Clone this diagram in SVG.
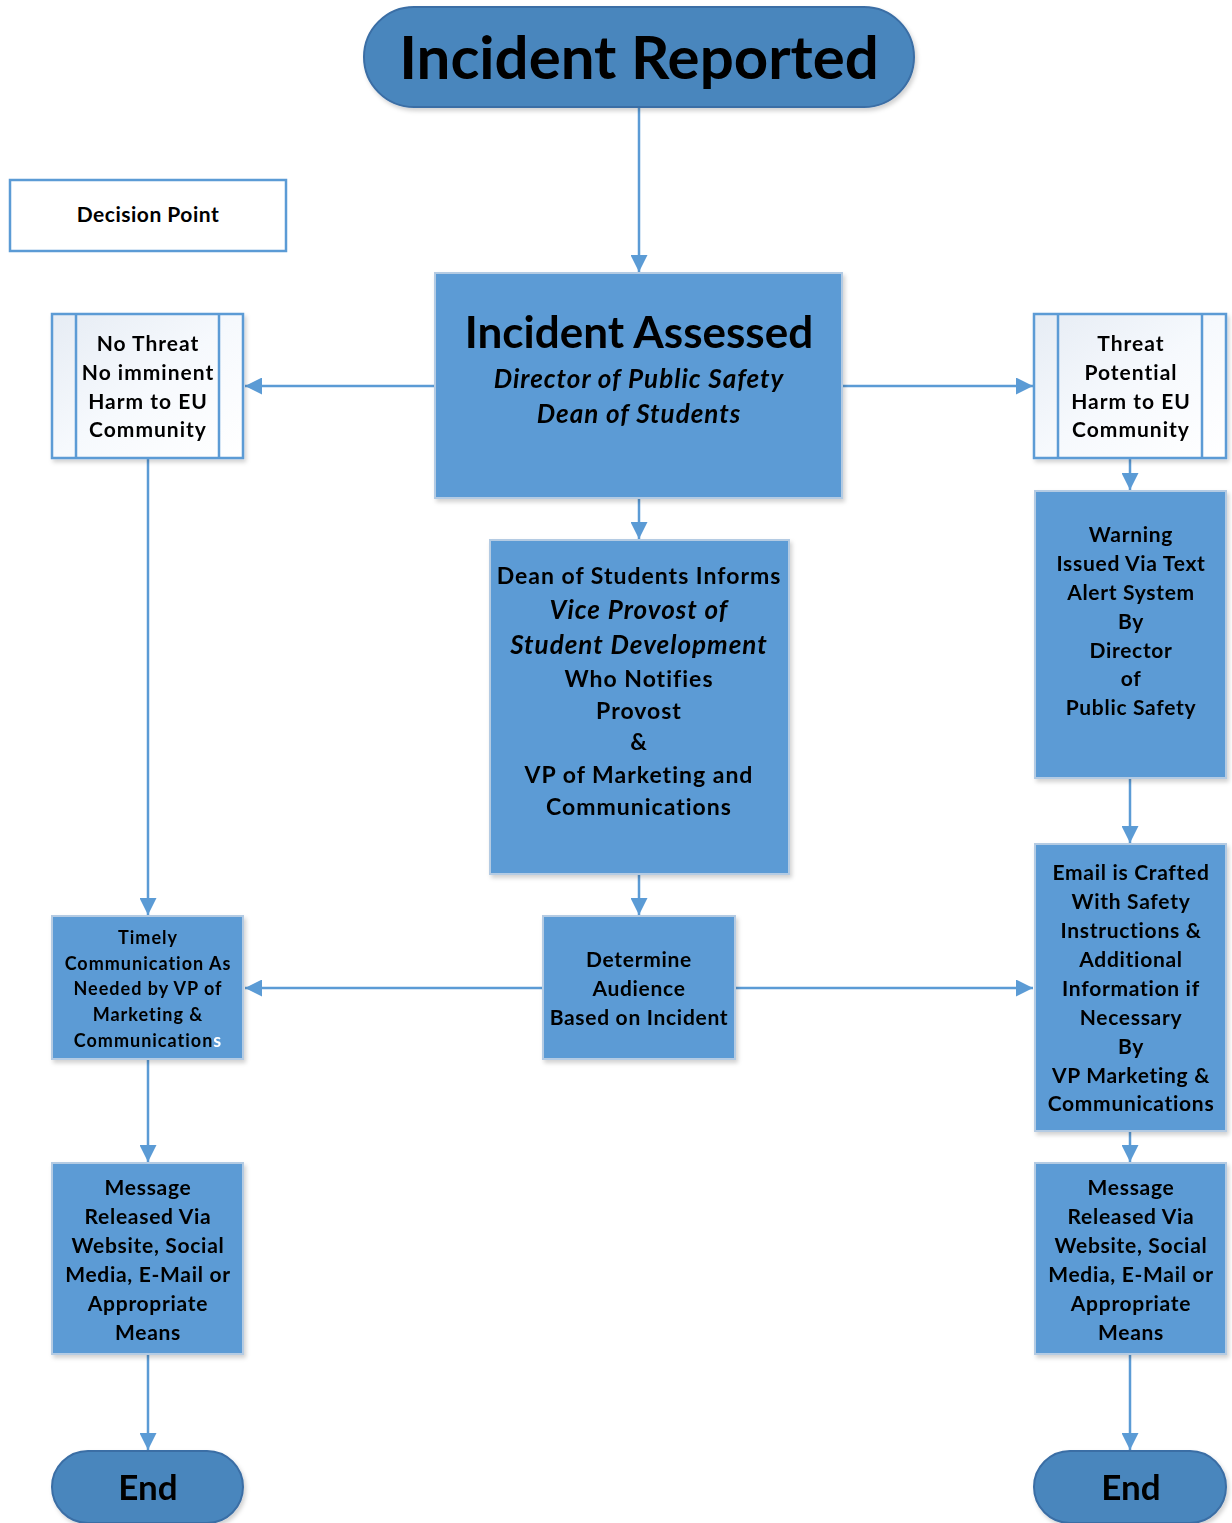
<svg xmlns="http://www.w3.org/2000/svg" width="1232" height="1523" viewBox="0 0 1232 1523">
<defs>
<style>
.t{font-family:Lato,"Open Sans","Liberation Sans",sans-serif;font-weight:bold;fill:#000;text-anchor:middle}
.i{font-style:italic}
.s7{letter-spacing:0.7px}
.s1{letter-spacing:1px}
.box{fill:#5b9bd5;stroke:#b4cbe3;stroke-width:2}
.term{fill:#4a86bd;stroke:#3a6ea5;stroke-width:2}
.dec{fill:url(#g);stroke:#5b9bd5;stroke-width:2.5}
.conn{stroke:#5b9bd5;stroke-width:2.5;fill:none;marker-end:url(#ah)}
</style>
<linearGradient id="g" x1="0" y1="0" x2="1" y2="1">
<stop offset="0" stop-color="#e6ecf4"/>
<stop offset="0.5" stop-color="#f6f9fd"/>
<stop offset="1" stop-color="#ffffff"/>
</linearGradient>
<marker id="ah" viewBox="0 0 10 10" refX="10" refY="5" markerWidth="17" markerHeight="17" markerUnits="userSpaceOnUse" orient="auto">
<path d="M0,0 L10,5 L0,10 z" fill="#5b9bd5"/>
</marker>
<filter id="sh" x="-5%" y="-5%" width="115%" height="115%">
<feDropShadow dx="2" dy="3" stdDeviation="2" flood-color="#000" flood-opacity="0.18"/>
</filter>
</defs>
<g id="connectors">
<line class="conn" x1="639" y1="107" x2="639" y2="272"/>
<line class="conn" x1="435" y1="386" x2="245" y2="386"/>
<line class="conn" x1="842" y1="386" x2="1033" y2="386"/>
<line class="conn" x1="639" y1="498" x2="639" y2="539"/>
<line class="conn" x1="639" y1="874" x2="639" y2="915"/>
<line class="conn" x1="543" y1="988" x2="245" y2="988"/>
<line class="conn" x1="735" y1="988" x2="1033" y2="988"/>
<line class="conn" x1="148" y1="458" x2="148" y2="915"/>
<line class="conn" x1="148" y1="1059" x2="148" y2="1162"/>
<line class="conn" x1="148" y1="1354" x2="148" y2="1450"/>
<line class="conn" x1="1130" y1="458" x2="1130" y2="490"/>
<line class="conn" x1="1130" y1="778" x2="1130" y2="843"/>
<line class="conn" x1="1130" y1="1131" x2="1130" y2="1162"/>
<line class="conn" x1="1130" y1="1354" x2="1130" y2="1450"/>
</g>
<g id="incident-reported" filter="url(#sh)">
<rect class="term" x="364" y="7" width="550" height="100" rx="50"/>
<text class="t" x="639" y="79" font-size="60">Incident Reported</text>
</g>
<g id="decision-point-legend">
<rect x="10" y="180" width="276" height="71" fill="#fff" stroke="#5b9bd5" stroke-width="2.5"/>
<text class="t" x="148" y="222" font-size="21" style="letter-spacing:0.5px">Decision Point</text>
</g>
<g id="incident-assessed" filter="url(#sh)">
<rect class="box" x="435" y="273" width="407" height="225"/>
<text class="t" x="639" y="348" font-size="44">Incident Assessed</text>
<text class="t i s1" x="639" y="388" font-size="26">Director of Public Safety</text>
<text class="t i s1" x="639" y="423" font-size="26">Dean of Students</text>
</g>
<g id="no-threat" filter="url(#sh)">
<rect class="dec" x="52" y="314" width="191" height="144"/>
<line x1="76" y1="314" x2="76" y2="458" stroke="#5b9bd5" stroke-width="2.5"/>
<line x1="219" y1="314" x2="219" y2="458" stroke="#5b9bd5" stroke-width="2.5"/>
<text class="t s1" x="148" y="351" font-size="21">No Threat</text>
<text class="t s1" x="148" y="380" font-size="21">No imminent</text>
<text class="t s1" x="148" y="409" font-size="21">Harm to EU</text>
<text class="t s1" x="148" y="437" font-size="21">Community</text>
</g>
<g id="threat" filter="url(#sh)">
<rect class="dec" x="1034" y="314" width="192" height="144"/>
<line x1="1058" y1="314" x2="1058" y2="458" stroke="#5b9bd5" stroke-width="2.5"/>
<line x1="1202" y1="314" x2="1202" y2="458" stroke="#5b9bd5" stroke-width="2.5"/>
<text class="t s1" x="1131" y="351" font-size="21">Threat</text>
<text class="t s1" x="1131" y="380" font-size="21">Potential</text>
<text class="t s1" x="1131" y="409" font-size="21">Harm to EU</text>
<text class="t s1" x="1131" y="437" font-size="21">Community</text>
</g>
<g id="dean-informs" filter="url(#sh)">
<rect class="box" x="490" y="540" width="299" height="334"/>
<text class="t s1" x="639" y="584" font-size="23">Dean of Students Informs</text>
<text class="t i s1" x="639" y="619" font-size="26">Vice Provost of</text>
<text class="t i s1" x="639" y="654" font-size="26">Student Development</text>
<text class="t s1" x="639" y="687" font-size="23">Who Notifies</text>
<text class="t s1" x="639" y="719" font-size="23">Provost</text>
<text class="t s1" x="639" y="750" font-size="23">&amp;</text>
<text class="t s1" x="639" y="783" font-size="23">VP of Marketing and</text>
<text class="t s1" x="639" y="815" font-size="23">Communications</text>
</g>
<g id="determine-audience" filter="url(#sh)">
<rect class="box" x="543" y="916" width="192" height="143"/>
<text class="t s7" x="639" y="967" font-size="21">Determine</text>
<text class="t s7" x="639" y="996" font-size="21">Audience</text>
<text class="t s7" x="639" y="1025" font-size="21">Based on Incident</text>
</g>
<g id="timely-communication" filter="url(#sh)">
<rect class="box" x="52" y="916" width="191" height="143"/>
<text class="t s1" x="148" y="944" font-size="18">Timely</text>
<text class="t s1" x="148" y="970" font-size="18">Communication As</text>
<text class="t s1" x="148" y="995" font-size="18">Needed by VP of</text>
<text class="t s1" x="148" y="1021" font-size="18">Marketing &amp;</text>
<text class="t s1" x="148" y="1047" font-size="18">Communication<tspan fill="#fff">s</tspan></text>
</g>
<g id="warning-issued" filter="url(#sh)">
<rect class="box" x="1035" y="491" width="191" height="287"/>
<text class="t s7" x="1131" y="542" font-size="21">Warning</text>
<text class="t s7" x="1131" y="571" font-size="21">Issued Via Text</text>
<text class="t s7" x="1131" y="600" font-size="21">Alert System</text>
<text class="t s7" x="1131" y="629" font-size="21">By</text>
<text class="t s7" x="1131" y="658" font-size="21">Director</text>
<text class="t s7" x="1131" y="686" font-size="21">of</text>
<text class="t s7" x="1131" y="715" font-size="21">Public Safety</text>
</g>
<g id="email-crafted" filter="url(#sh)">
<rect class="box" x="1035" y="844" width="191" height="287"/>
<text class="t s7" x="1131" y="880" font-size="21">Email is Crafted</text>
<text class="t s7" x="1131" y="909" font-size="21">With Safety</text>
<text class="t s7" x="1131" y="938" font-size="21">Instructions &amp;</text>
<text class="t s7" x="1131" y="967" font-size="21">Additional</text>
<text class="t s7" x="1131" y="996" font-size="21">Information if</text>
<text class="t s7" x="1131" y="1025" font-size="21">Necessary</text>
<text class="t s7" x="1131" y="1054" font-size="21">By</text>
<text class="t s7" x="1131" y="1083" font-size="21">VP Marketing &amp;</text>
<text class="t s7" x="1131" y="1111" font-size="21">Communications</text>
</g>
<g id="message-left" filter="url(#sh)">
<rect class="box" x="52" y="1163" width="191" height="191"/>
<text class="t s7" x="148" y="1195" font-size="21">Message</text>
<text class="t s7" x="148" y="1224" font-size="21">Released Via</text>
<text class="t s7" x="148" y="1253" font-size="21">Website, Social</text>
<text class="t s7" x="148" y="1282" font-size="21">Media, E-Mail or</text>
<text class="t s7" x="148" y="1311" font-size="21">Appropriate</text>
<text class="t s7" x="148" y="1340" font-size="21">Means</text>
</g>
<g id="message-right" filter="url(#sh)">
<rect class="box" x="1035" y="1163" width="191" height="191"/>
<text class="t s7" x="1131" y="1195" font-size="21">Message</text>
<text class="t s7" x="1131" y="1224" font-size="21">Released Via</text>
<text class="t s7" x="1131" y="1253" font-size="21">Website, Social</text>
<text class="t s7" x="1131" y="1282" font-size="21">Media, E-Mail or</text>
<text class="t s7" x="1131" y="1311" font-size="21">Appropriate</text>
<text class="t s7" x="1131" y="1340" font-size="21">Means</text>
</g>
<g id="end-left" filter="url(#sh)">
<rect class="term" x="52" y="1451" width="191" height="72" rx="36"/>
<text class="t" x="148" y="1500" font-size="35">End</text>
</g>
<g id="end-right" filter="url(#sh)">
<rect class="term" x="1034" y="1451" width="192" height="72" rx="36"/>
<text class="t" x="1131" y="1500" font-size="35">End</text>
</g>
</svg>
